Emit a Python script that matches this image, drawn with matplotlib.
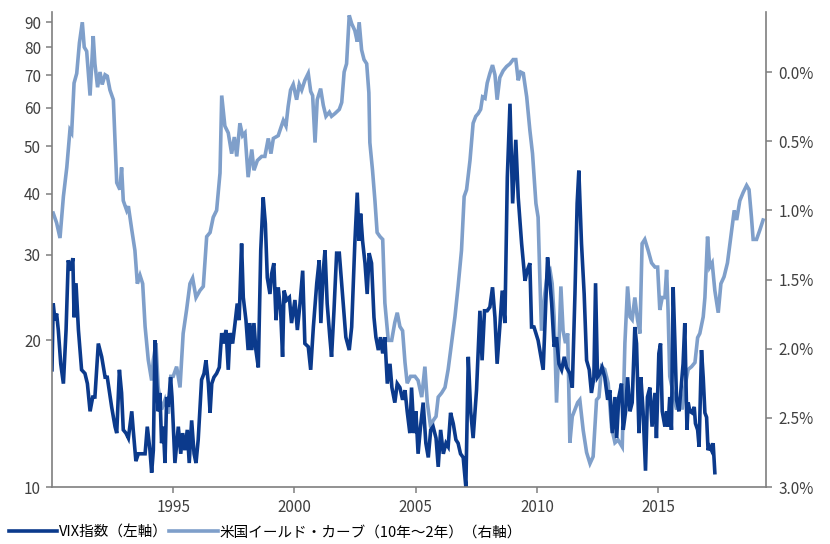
import matplotlib
matplotlib.use("Agg")
import matplotlib.pyplot as plt
from matplotlib.ticker import FixedLocator, FixedFormatter, NullLocator

plt.rcParams['font.family'] = ['Noto Sans CJK JP', 'DejaVu Sans']

# VIX index (left axis), decimal years
vix_dates = [1990.00, 1990.05, 1990.12, 1990.19, 1990.26, 1990.36, 1990.47, 1990.58, 1990.67, 1990.77,
             1990.86, 1990.91, 1990.99, 1991.09, 1991.22, 1991.36, 1991.46, 1991.57, 1991.68, 1991.77,
             1991.91, 1992.05, 1992.19, 1992.28, 1992.46, 1992.60, 1992.67, 1992.78, 1992.87, 1992.94,
             1993.05, 1993.15, 1993.29, 1993.35, 1993.46, 1993.56, 1993.70, 1993.84, 1993.93, 1994.04,
             1994.11, 1994.18, 1994.25, 1994.32, 1994.38, 1994.45, 1994.52, 1994.59, 1994.66, 1994.73,
             1994.80, 1994.89, 1994.95, 1995.07, 1995.21, 1995.31, 1995.39, 1995.48, 1995.58, 1995.66,
             1995.76, 1995.86, 1995.94, 1996.03, 1996.17, 1996.27, 1996.35, 1996.45, 1996.52, 1996.59,
             1996.68, 1996.79, 1996.90, 1997.00, 1997.06, 1997.18, 1997.27, 1997.34, 1997.45, 1997.55,
             1997.64, 1997.72, 1997.82, 1997.89, 1998.00, 1998.09, 1998.16, 1998.24, 1998.33, 1998.41,
             1998.51, 1998.61, 1998.71, 1998.80, 1998.88, 1998.99, 1999.06, 1999.15, 1999.24, 1999.33,
             1999.43, 1999.51, 1999.57, 1999.68, 1999.79, 1999.88, 2000.02, 2000.12, 2000.23, 2000.34,
             2000.43, 2000.57, 2000.67, 2000.78, 2000.92, 2001.02, 2001.09, 2001.19, 2001.26, 2001.35,
             2001.46, 2001.53, 2001.63, 2001.74, 2001.85, 2001.99, 2002.12, 2002.26, 2002.36, 2002.49,
             2002.59, 2002.67, 2002.73, 2002.81, 2002.91, 2003.00, 2003.08, 2003.18, 2003.28, 2003.36,
             2003.46, 2003.55, 2003.64, 2003.73, 2003.83, 2003.94, 2004.02, 2004.14, 2004.24, 2004.35,
             2004.46, 2004.56, 2004.65, 2004.76, 2004.83, 2004.93, 2005.01, 2005.10, 2005.20, 2005.31,
             2005.42, 2005.52, 2005.62, 2005.72, 2005.84, 2005.93, 2006.03, 2006.14, 2006.25, 2006.34,
             2006.44, 2006.55, 2006.66, 2006.75, 2006.85, 2006.96, 2007.07, 2007.17, 2007.27, 2007.37,
             2007.51, 2007.65, 2007.74, 2007.84, 2007.95, 2008.06, 2008.17, 2008.27, 2008.36, 2008.47,
             2008.57, 2008.68, 2008.78, 2008.89, 2009.00, 2009.13, 2009.23, 2009.37, 2009.51, 2009.60,
             2009.71, 2009.78, 2009.88, 2010.05, 2010.26, 2010.44, 2010.54, 2010.61, 2010.71, 2010.81,
             2010.91, 2011.02, 2011.13, 2011.22, 2011.36, 2011.46, 2011.57, 2011.66, 2011.73, 2011.84,
             2011.95, 2012.05, 2012.16, 2012.25, 2012.35, 2012.42, 2012.50, 2012.60, 2012.69, 2012.80,
             2012.92, 2013.01, 2013.11, 2013.22, 2013.29, 2013.38, 2013.49, 2013.56, 2013.66, 2013.74,
             2013.84, 2013.93, 2014.04, 2014.11, 2014.21, 2014.29, 2014.38, 2014.48, 2014.56, 2014.66,
             2014.75, 2014.87, 2014.93, 2015.03, 2015.10, 2015.17, 2015.28, 2015.35, 2015.41, 2015.48,
             2015.55, 2015.62, 2015.69, 2015.76, 2015.86, 2015.94, 2016.03, 2016.10, 2016.19, 2016.24,
             2016.31, 2016.40, 2016.49, 2016.54, 2016.63, 2016.69, 2016.79, 2016.86, 2016.93, 2017.00,
             2017.06, 2017.13, 2017.20, 2017.27, 2017.34]
vix_values = [17.4, 23.8, 22.0, 22.7, 21.0, 17.9, 16.3, 21.0, 29.2, 27.8,
              29.5, 22.3, 26.2, 21.0, 17.4, 17.1, 16.3, 14.3, 15.3, 15.3,
              19.7, 18.5, 16.8, 16.8, 14.6, 13.3, 12.9, 17.4, 15.6, 13.1,
              12.9, 12.6, 14.3, 13.1, 11.3, 11.7, 11.7, 11.7, 13.3, 11.9,
              10.7, 11.9, 20.0, 16.3, 14.3, 15.6, 12.3, 13.3, 11.2, 15.3,
              14.6, 16.8, 15.3, 11.2, 13.3, 11.7, 12.9, 11.9, 13.1, 11.2,
              13.7, 11.7, 11.2, 12.5, 16.6, 17.1, 18.2, 16.3, 14.2, 16.3,
              16.8, 17.1, 17.6, 20.7, 19.7, 21.0, 17.4, 20.7, 19.7, 21.7,
              23.8, 22.0, 31.6, 24.5, 22.0, 19.1, 21.7, 19.1, 21.7, 19.1,
              17.6, 30.6, 39.3, 34.7, 26.9, 24.9, 27.4, 28.8, 22.0, 25.7,
              23.0, 18.5, 25.3, 24.2, 24.5, 21.7, 24.2, 21.0, 23.8, 27.8,
              19.7, 19.4, 17.4, 21.3, 26.2, 29.2, 21.7, 27.8, 30.6, 23.8,
              20.3, 18.5, 23.0, 30.2, 30.2, 24.5, 20.3, 19.1, 21.3, 31.6,
              40.2, 32.0, 36.4, 32.0, 28.8, 24.9, 30.2, 28.8, 22.3, 20.3,
              19.1, 20.3, 18.8, 20.3, 16.3, 17.9, 16.0, 14.9, 16.3, 16.0,
              15.1, 15.8, 14.3, 12.9, 16.0, 12.9, 14.3, 11.7, 13.3, 14.9,
              12.3, 11.5, 13.1, 13.3, 12.6, 11.0, 13.1, 11.7, 12.3, 12.1,
              14.2, 13.5, 12.5, 12.3, 11.7, 11.5, 10.0, 18.5, 14.3, 12.6,
              15.8, 23.0, 18.2, 23.0, 23.0, 23.4, 25.7, 22.3, 17.9, 21.3,
              25.3, 21.7, 43.2, 61.2, 38.2, 51.6, 39.3, 31.6, 26.5, 27.8,
              28.8, 21.3, 21.3, 20.0, 17.4, 29.6, 26.2, 23.8, 19.4, 20.3,
              17.9, 17.4, 18.5, 17.6, 17.1, 16.0, 24.9, 38.2, 44.6, 31.6,
              24.9, 18.2, 17.4, 15.6, 16.8, 26.2, 16.8, 17.1, 17.6, 16.8,
              15.1, 15.8, 12.9, 15.3, 12.6, 15.3, 16.3, 13.1, 14.3, 16.8,
              14.3, 14.9, 21.3, 19.7, 12.9, 16.8, 14.3, 10.8, 15.3, 16.0,
              13.3, 15.6, 12.6, 18.8, 19.7, 14.3, 13.3, 14.3, 13.3, 15.3,
              13.1, 25.7, 20.0, 15.1, 14.3, 15.8, 17.9, 21.7, 13.1, 14.9,
              14.3, 14.2, 14.6, 13.5, 13.1, 12.1, 19.1, 16.8, 14.2, 13.9,
              11.9, 12.1, 11.9, 12.3, 10.7]

# US yield curve 10y-2y (right axis, %), decimal years
curve_dates = [1990.05, 1990.19, 1990.33, 1990.47, 1990.61, 1990.74, 1990.81, 1990.91, 1991.02, 1991.13,
               1991.25, 1991.33, 1991.43, 1991.57, 1991.70, 1991.77, 1991.88, 1991.98, 1992.07, 1992.19,
               1992.28, 1992.39, 1992.53, 1992.67, 1992.80, 1992.87, 1992.94, 1993.08, 1993.15, 1993.29,
               1993.42, 1993.52, 1993.63, 1993.74, 1993.84, 1993.97, 1994.11, 1994.18, 1994.29, 1994.38,
               1994.52, 1994.66, 1994.80, 1994.90, 1995.00, 1995.14, 1995.28, 1995.41, 1995.55, 1995.69,
               1995.80, 1995.94, 1996.10, 1996.24, 1996.38, 1996.52, 1996.65, 1996.79, 1996.93, 1997.00,
               1997.13, 1997.27, 1997.41, 1997.52, 1997.62, 1997.75, 1997.86, 1997.96, 1998.09, 1998.24,
               1998.33, 1998.47, 1998.65, 1998.78, 1998.92, 1999.03, 1999.13, 1999.33, 1999.54, 1999.65,
               1999.74, 1999.84, 1999.95, 2000.09, 2000.20, 2000.30, 2000.43, 2000.57, 2000.67, 2000.75,
               2000.85, 2000.94, 2001.08, 2001.19, 2001.30, 2001.44, 2001.53, 2001.67, 2001.85, 2001.95,
               2002.05, 2002.15, 2002.26, 2002.36, 2002.49, 2002.59, 2002.67, 2002.77, 2002.87, 2002.98,
               2003.07, 2003.11, 2003.22, 2003.32, 2003.41, 2003.53, 2003.64, 2003.73, 2003.87, 2004.01,
               2004.14, 2004.24, 2004.35, 2004.46, 2004.56, 2004.65, 2004.79, 2004.97, 2005.10, 2005.25,
               2005.38, 2005.48, 2005.62, 2005.72, 2005.84, 2005.93, 2006.07, 2006.21, 2006.34, 2006.48,
               2006.62, 2006.75, 2006.89, 2007.00, 2007.10, 2007.24, 2007.37, 2007.48, 2007.58, 2007.68,
               2007.76, 2007.86, 2007.95, 2008.06, 2008.17, 2008.27, 2008.36, 2008.47, 2008.61, 2008.75,
               2008.89, 2009.02, 2009.13, 2009.23, 2009.33, 2009.44, 2009.58, 2009.71, 2009.82, 2009.96,
               2010.05, 2010.12, 2010.19, 2010.33, 2010.44, 2010.54, 2010.63, 2010.71, 2010.81, 2010.91,
               2010.99, 2011.08, 2011.18, 2011.27, 2011.36, 2011.46, 2011.57, 2011.68, 2011.77, 2011.91,
               2012.05, 2012.19, 2012.32, 2012.46, 2012.56, 2012.67, 2012.80, 2012.94, 2013.08, 2013.22,
               2013.35, 2013.52, 2013.63, 2013.74, 2013.84, 2013.93, 2014.04, 2014.15, 2014.25, 2014.34,
               2014.45, 2014.59, 2014.73, 2014.87, 2014.98, 2015.07, 2015.17, 2015.28, 2015.35, 2015.41,
               2015.48, 2015.62, 2015.76, 2015.90, 2015.99, 2016.10, 2016.24, 2016.38, 2016.52, 2016.63,
               2016.72, 2016.86, 2016.93, 2017.04, 2017.13, 2017.23, 2017.34, 2017.48, 2017.59, 2017.72,
               2017.86, 2018.00, 2018.14, 2018.24, 2018.37, 2018.51, 2018.65, 2018.75, 2018.85, 2018.92,
               2019.06, 2019.20, 2019.33]
curve_values = [1.02, 1.09, 1.20, 0.90, 0.69, 0.42, 0.44, 0.08, 0.01, -0.21,
                -0.36, -0.18, -0.15, 0.17, -0.26, -0.06, 0.11, 0.00, 0.09, 0.02,
                0.03, 0.13, 0.20, 0.80, 0.85, 0.69, 0.93, 1.00, 0.97, 1.14,
                1.29, 1.53, 1.47, 1.53, 1.84, 2.08, 2.23, 2.08, 1.96, 2.28,
                2.44, 2.37, 2.47, 2.20, 2.20, 2.13, 2.28, 1.89, 1.72, 1.53,
                1.49, 1.63, 1.58, 1.55, 1.19, 1.16, 1.05, 1.00, 0.73, 0.17,
                0.39, 0.44, 0.59, 0.47, 0.61, 0.37, 0.46, 0.44, 0.76, 0.56,
                0.71, 0.64, 0.61, 0.61, 0.48, 0.59, 0.48, 0.46, 0.35, 0.39,
                0.25, 0.13, 0.09, 0.20, 0.09, 0.13, 0.06, 0.01, 0.14, 0.17,
                0.51, 0.20, 0.12, 0.24, 0.32, 0.29, 0.32, 0.30, 0.27, 0.22,
                0.00, -0.06, -0.41, -0.35, -0.30, -0.22, -0.36, -0.16, -0.09, -0.06,
                0.15, 0.51, 0.71, 0.93, 1.16, 1.19, 1.21, 1.67, 1.94, 1.94,
                1.81, 1.74, 1.84, 1.87, 2.10, 2.25, 2.20, 2.20, 2.23, 2.35,
                2.13, 2.39, 2.57, 2.52, 2.49, 2.35, 2.32, 2.28, 2.15, 1.96,
                1.77, 1.55, 1.29, 0.90, 0.85, 0.64, 0.37, 0.32, 0.30, 0.27,
                0.18, 0.19, 0.08, 0.01, -0.05, 0.02, 0.20, 0.04, -0.01, -0.04,
                -0.06, -0.09, -0.09, 0.06, 0.00, 0.01, 0.18, 0.42, 0.59, 0.95,
                1.05, 1.48, 1.87, 1.60, 1.45, 1.43, 1.53, 1.77, 2.39, 1.96,
                1.55, 1.87, 1.96, 1.89, 2.68, 2.49, 2.44, 2.39, 2.37, 2.59,
                2.75, 2.83, 2.78, 2.37, 2.35, 2.13, 2.15, 2.25, 2.57, 2.68,
                2.66, 2.71, 1.96, 1.55, 1.77, 1.79, 1.63, 1.79, 1.89, 1.24,
                1.21, 1.29, 1.38, 1.41, 1.41, 1.72, 1.63, 1.63, 1.43, 1.72,
                2.20, 2.32, 2.44, 2.35, 2.44, 2.28, 2.15, 2.13, 2.10, 1.92,
                1.89, 1.77, 1.63, 1.19, 1.41, 1.38, 1.58, 1.74, 1.53, 1.48,
                1.38, 1.19, 1.00, 1.07, 0.93, 0.87, 0.82, 0.85, 1.05, 1.21,
                1.21, 1.14, 1.07]

year_ticks = [1995, 2000, 2005, 2010, 2015]
vix_ticks = [10, 20, 30, 40, 50, 60, 70, 80, 90]
curve_ticks = [0.0, 0.5, 1.0, 1.5, 2.0, 2.5, 3.0]
vix_label = 'VIX指数（左軸）'
curve_label = '米国イールド・カーブ（10年～2年）（右軸）'

dark = '#0b3a8c'
light = '#7f9fca'
axis_col = '#7f7f7f'
text_col = '#404040'

fig = plt.figure(figsize=(8.30, 5.44), dpi=100)
ax = fig.add_axes([52/830, 1-487/544, (766-52)/830, (487-12)/544])
ax2 = ax.twinx()

l2, = ax2.plot(curve_dates, curve_values, color=light, lw=2.6, solid_joinstyle='miter', label=curve_label)
l1, = ax.plot(vix_dates, vix_values, color=dark, lw=2.6, solid_joinstyle='miter', label=vix_label)
ax.set_zorder(ax2.get_zorder() + 1)
ax.patch.set_visible(False)

ax.set_xlim(1990.0, 2019.45)
ax.set_yscale('log')
ax.set_ylim(10, 94.4)
ax.yaxis.set_major_locator(FixedLocator(vix_ticks))
ax.yaxis.set_major_formatter(FixedFormatter([str(v) for v in vix_ticks]))
ax.yaxis.set_minor_locator(NullLocator())
ax.set_xticks(year_ticks)
ax.set_xticklabels([str(y) for y in year_ticks])

ax2.set_ylim(3.0, -0.434)
ax2.set_yticks(curve_ticks)
ax2.set_yticklabels([f'{v:.1f}%' for v in curve_ticks])

for a in (ax, ax2):
    a.spines['top'].set_visible(False)
    for s in ('left', 'right', 'bottom'):
        a.spines[s].set_color(axis_col)
        a.spines[s].set_linewidth(1.2)
    a.tick_params(colors=axis_col, labelcolor=text_col, labelsize=11, length=4, width=1.1)
ax.tick_params(axis='y', pad=4)
ax.tick_params(axis='x', pad=5)
ax2.tick_params(axis='y', pad=5)
ax.spines['right'].set_visible(False)
ax2.spines['left'].set_visible(False)
ax2.spines['bottom'].set_visible(False)

fig.legend(handles=[l1, l2], labels=[vix_label, curve_label], loc='lower left',
           bbox_to_anchor=(0.0, -0.008), ncol=2, frameon=False, fontsize=10.5,
           handlelength=3.3, handletextpad=0.15, columnspacing=0.1, borderaxespad=0.2,
           labelcolor='#000000')

fig.savefig('out.png', dpi=100)
